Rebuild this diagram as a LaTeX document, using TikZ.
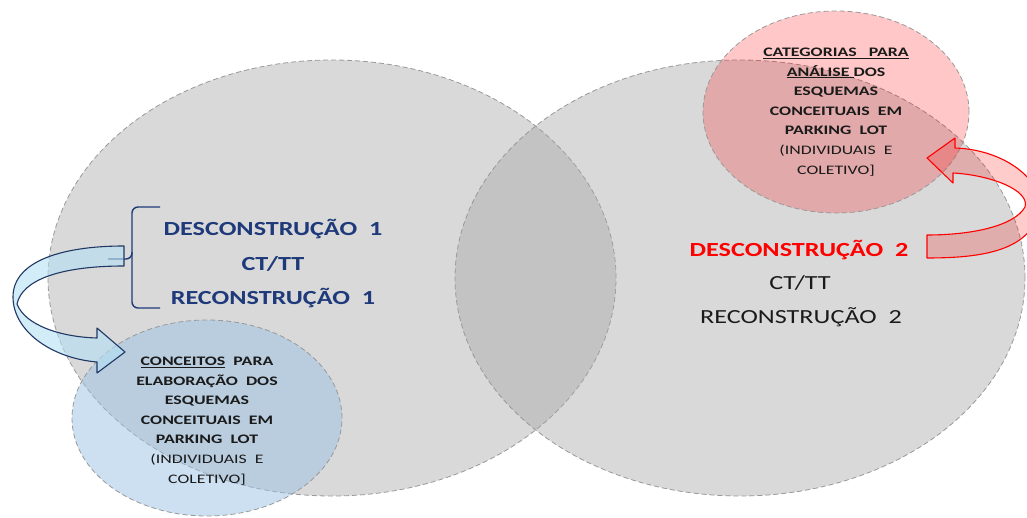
\documentclass[tikz,border=0pt]{standalone}
\usepackage{fontspec}
\setmainfont{Carlito}
\newfontfamily\widebig[FakeStretch=1.31]{Carlito}
\newfontfamily\widenote[FakeStretch=1.37]{Carlito}
\usetikzlibrary{shapes.geometric}
\definecolor{SetGray}{HTML}{A6A6A6}
\definecolor{SetEdge}{HTML}{999999}
\definecolor{DeconNavy}{HTML}{1F3A7A}
\definecolor{ArrowNavy}{HTML}{203864}
\definecolor{ConceptBlue}{HTML}{9BC2E6}
\definecolor{ArrowCyan}{HTML}{B4E0F4}
\definecolor{NoteInk}{HTML}{1A1A1A}
\tikzset{bigset/.style={ellipse,draw=SetEdge,dash pattern=on 5pt off 3pt,line width=.8pt,fill=SetGray,fill opacity=.42,inner sep=0pt},
smallset/.style={ellipse,draw=SetEdge,dash pattern=on 5pt off 3pt,line width=.8pt,fill opacity=.5,inner sep=0pt},
bigtxt/.style={font=\widebig\fontsize{20}{24}\selectfont\bfseries,inner sep=0pt},
plaintxt/.style={font=\widebig\fontsize{20}{24}\selectfont,text=NoteInk,inner sep=0pt},
notetxt/.style={font=\widenote\fontsize{13}{19.6}\selectfont\bfseries,text=NoteInk,align=center,inner sep=0pt},
brace/.style={draw=DeconNavy,line width=1.4pt,rounded corners=6pt}}

\begin{document}
\begin{tikzpicture}[x=1pt,y=-1pt]
\useasboundingbox (0,0) rectangle (1027,518);
\fill[white] (0,0) rectangle (1027,518);
\clip (0,0) rectangle (1027,518);
\node[bigset,minimum width=568pt,minimum height=436pt] (setleft) at (332,278) {};
\node[bigset,minimum width=570pt,minimum height=436pt] (setright) at (740,278) {};
\node[smallset,fill=ConceptBlue,minimum width=270pt,minimum height=196pt] (concepts) at (207,418) {};
\node[smallset,fill=red,fill opacity=.22,minimum width=266pt,minimum height=202pt] (categories) at (836,112) {};
\node[bigtxt,text=DeconNavy] (decon1) at (273,229) {DESCONSTRUÇÃO\ \ 1};
\node[bigtxt,text=DeconNavy] (cttt1) at (273,264) {CT/TT};
\node[bigtxt,text=DeconNavy] (recon1) at (273,298) {RECONSTRUÇÃO\ \ 1};
\node[bigtxt,text=red] (decon2) at (799,250) {DESCONSTRUÇÃO\ \ 2};
\node[plaintxt] (cttt2) at (800,283) {CT/TT};
\node[plaintxt] (recon2) at (801,317) {RECONSTRUÇÃO\ \ 2};
\node[notetxt] (conceptnote) at (207,421) {\underline{CONCEITOS}\ \ PARA\\ELABORAÇÃO\ \ DOS\\ESQUEMAS\\CONCEITUAIS\ \ EM\\PARKING\ \ LOT\\{\mdseries (INDIVIDUAIS\ \ E}\\{\mdseries COLETIVO]}};
\node[notetxt] (categorynote) at (836,112) {\underline{CATEGORIAS\ \ \ PARA}\\\underline{ANÁLISE\ }DOS\\ESQUEMAS\\CONCEITUAIS\ \ EM\\PARKING\ \ LOT\\{\mdseries (INDIVIDUAIS\ \ E}\\{\mdseries COLETIVO]}};
\draw[brace] (160,207) -| (132,259) -- (108,259);
\draw[brace] (132,252) |- (160,308);
\draw[draw=ArrowNavy,line width=1.1pt,fill=ArrowCyan,fill opacity=.6,line join=round] (124,246) .. controls (60,246) and (13,262) .. (13,297)
 .. controls (13,330) and (50,358) .. (97,362) -- (97,373) -- (125,352) -- (97,328) -- (97,338)
 .. controls (60,337) and (25,325) .. (17,304) .. controls (22,280) and (60,266) .. (124,266) -- cycle;
\draw[draw=red,line width=1.1pt,fill=red,fill opacity=.2,line join=round] (927,235) .. controls (975,235) and (1015,225) .. (1025,207)
 .. controls (1030,190) and (990,175) .. (953,173) -- (953,183) -- (927,158) -- (955,138) -- (955,148)
 .. controls (1010,150) and (1045,185) .. (1040,210) .. controls (1030,250) and (985,258) .. (927,258) -- cycle;
\end{tikzpicture}
\end{document}
